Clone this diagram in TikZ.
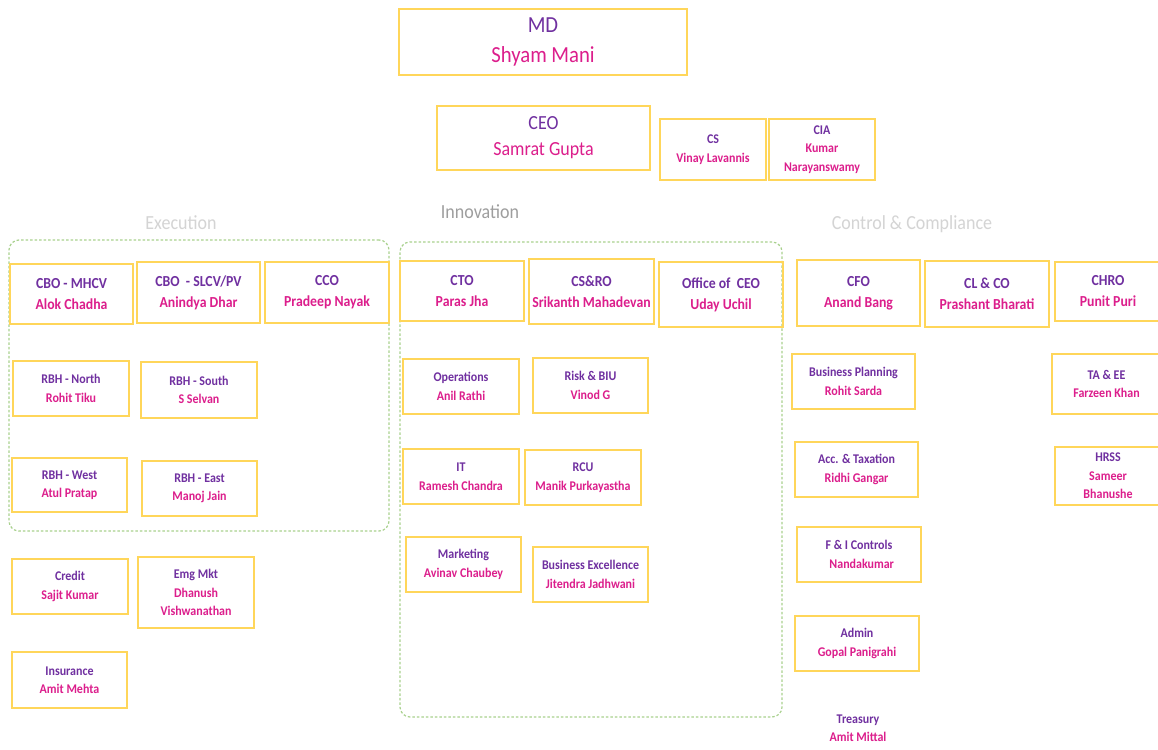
\documentclass[tikz,border=0pt]{standalone}
\usepackage{fontspec}
\setmainfont[FakeStretch=0.9]{Carlito}
\definecolor{ttl}{HTML}{7030A0}
\definecolor{nm}{HTML}{DC1E8C}
\definecolor{boxc}{HTML}{FFD65A}
\definecolor{grp}{HTML}{A9D18E}
\definecolor{sec}{HTML}{D4D4D4}
\tikzset{
  obox/.style={draw=boxc, line width=1.6pt, align=center, inner sep=0pt},
  grpbox/.style={draw=grp, line width=1.2pt, dash pattern=on 2.5pt off 2pt, rounded corners=10pt},
  seclbl/.style={font=\fontsize{20}{22}\selectfont, text=sec},
  big/.style={font=\fontsize{23}{30}\selectfont},
  mid/.style={font=\fontsize{20}{26}\selectfont},
  top/.style={font=\bfseries\fontsize{15.3}{21}\selectfont},
  sml/.style={font=\bfseries\fontsize{13.3}{18.5}\selectfont},
}
\newcommand\pnl{\\\color{nm}}
% #1 name, #2 style, #3 x1, #4 y1, #5 x2, #6 y2, #7 title, #8 person
\newcommand\obx[8]{%
  \node[obox,#2,minimum width={(#5-#3)*1pt},minimum height={(#6-#4)*1pt}] (#1) at ({(#3+#5)/2},{(#4+#6)/2})
    {\color{ttl}#7\pnl #8};}
\begin{document}
\begin{tikzpicture}[x=1pt,y=-1pt]
\useasboundingbox[fill=white] (0,0) rectangle (1158,749);
% groups
\node[grpbox, minimum width=382pt, minimum height=475pt, inner sep=0pt] (inngrp) at (591,479.5) {};
\node[grpbox, minimum width=380pt, minimum height=291pt, inner sep=0pt] (exegrp) at (199,385.5) {};
% section labels
\node[seclbl] (exec) at (181,223) {Execution};
\node[seclbl, text=black!38] (innov) at (480,212) {Innovation};
\node[seclbl] (ctrl) at (912,224) {Control \& Compliance};
% top
\obx{md}{big}{399}{9}{687}{75}{MD}{Shyam Mani}
\obx{ceo}{mid}{437}{106}{650}{170}{CEO}{Samrat Gupta}
\obx{cs}{sml}{660}{119}{766}{180}{CS}{Vinay Lavannis}
\obx{cia}{sml}{769}{119}{875}{180}{CIA}{Kumar\pnl Narayanswamy}
% execution
\obx{cbom}{top}{10}{264}{133}{324}{CBO - MHCV}{Alok Chadha}
\obx{cbos}{top}{137}{262}{260}{323}{CBO\ \ - SLCV/PV}{Anindya Dhar}
\obx{cco}{top}{265}{262}{389}{323}{CCO}{Pradeep Nayak}
\obx{rbhn}{sml}{13}{361}{129}{416}{RBH - North}{Rohit Tiku}
\obx{rbhs}{sml}{141}{362}{257}{418}{RBH - South}{S Selvan}
\obx{rbhw}{sml}{12}{458}{127}{512}{RBH - West}{Atul Pratap}
\obx{rbhe}{sml}{142}{461}{257}{516}{RBH - East}{Manoj Jain}
\obx{credit}{sml}{12}{559}{128}{614}{Credit}{Sajit Kumar}
\obx{emg}{sml}{138}{557}{254}{628}{Emg Mkt}{Dhanush\pnl Vishwanathan}
\obx{ins}{sml}{12}{652}{127}{708}{Insurance}{Amit Mehta}
% innovation
\obx{cto}{top}{400}{261}{524}{321}{CTO}{Paras Jha}
\obx{csro}{top}{529}{259}{654}{324}{CS\&RO}{Srikanth Mahadevan}
\obx{oceo}{top}{659}{262}{783}{327}{Office of\ \ CEO}{Uday Uchil}
\obx{ops}{sml}{403}{359}{519}{414}{Operations}{Anil Rathi}
\obx{risk}{sml}{533}{358}{648}{413}{Risk \& BIU}{Vinod G}
\obx{it}{sml}{403}{449}{519}{504}{IT}{Ramesh Chandra}
\obx{rcu}{sml}{525}{450}{641}{505}{RCU}{Manik Purkayastha}
\obx{mkt}{sml}{406}{537}{521}{592}{Marketing}{Avinav Chaubey}
\obx{bex}{sml}{533}{547}{648}{602}{Business Excellence}{Jitendra Jadhwani}
% control
\obx{cfo}{top}{797}{260}{920}{326}{CFO}{Anand Bang}
\obx{clco}{top}{925}{261}{1049}{327}{CL \& CO}{Prashant Bharati}
\obx{chro}{top}{1055}{262}{1161}{321}{CHRO}{Punit Puri}
\obx{bp}{sml}{792}{354}{915}{409}{Business Planning}{Rohit Sarda}
\obx{taee}{sml}{1052}{354}{1161}{414}{TA \& EE}{Farzeen Khan}
\obx{acc}{sml}{795}{442}{918}{497}{Acc. \& Taxation}{Ridhi Gangar}
\obx{hrss}{sml}{1055}{447}{1161}{505}{HRSS}{Sameer\pnl Bhanushe}
\obx{fic}{sml}{797}{527}{921}{582}{F \& I Controls}{\ \ Nandakumar}
\obx{admin}{sml}{795}{616}{919}{671}{Admin}{Gopal Panigrahi}
\node[sml, align=center, inner sep=0pt] (tres) at (858,728) {\color{ttl}Treasury\pnl Amit Mittal};
\end{tikzpicture}
\end{document}
